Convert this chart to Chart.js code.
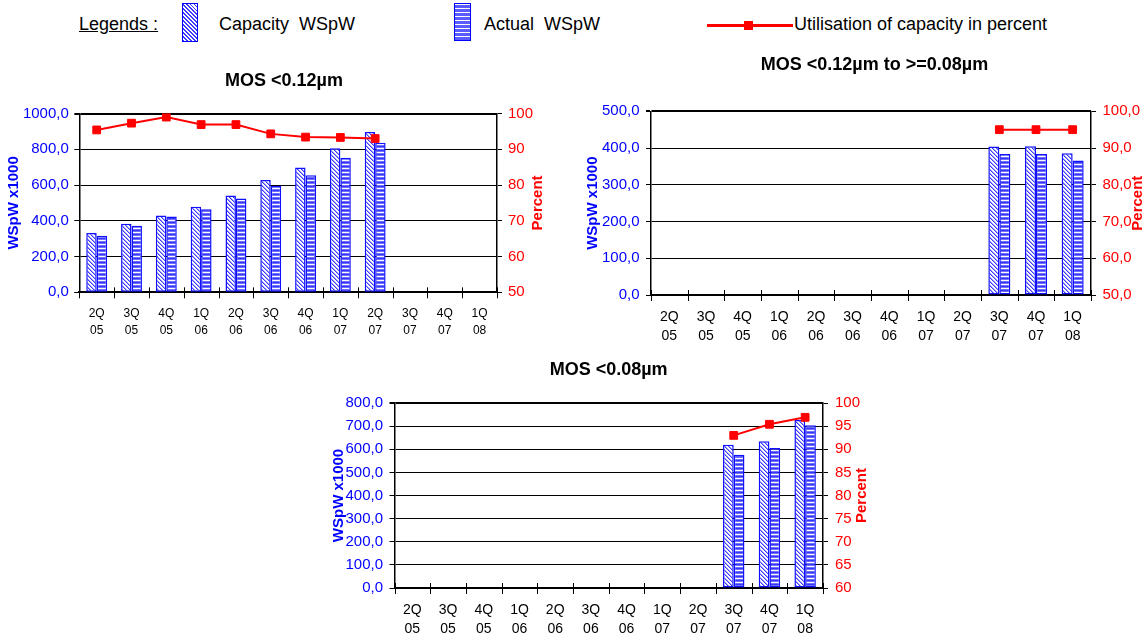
<!DOCTYPE html>
<html><head><meta charset="utf-8">
<script src="https://cdn.jsdelivr.net/npm/chart.js@4.4.1/dist/chart.umd.min.js"></script>
<style>
html,body{margin:0;padding:0;background:#fff;}
body{width:1147px;height:640px;position:relative;overflow:hidden;font-family:"Liberation Sans",Arial,sans-serif;}
canvas{position:absolute;}
.lg{position:absolute;font-size:18px;line-height:20px;color:#000;white-space:pre;}
.sw{position:absolute;box-sizing:border-box;border:1px solid #0000ff;}
</style></head><body>
<div class="lg" style="left:79px;top:14px;text-decoration:underline;">Legends :</div>
<div class="sw" style="left:182px;top:3px;width:16px;height:39px;background:repeating-linear-gradient(45deg,#3a3aff 0 1px,#ffffff 1px 2.8px);"></div>
<div class="lg" style="left:219px;top:14px;">Capacity  WSpW</div>
<div class="sw" style="left:454px;top:3px;width:17px;height:38px;background:repeating-linear-gradient(to bottom,#ffffff 0 1px,#5a5aff 1px 4px);"></div>
<div class="lg" style="left:484px;top:14px;">Actual  WSpW</div>
<div style="position:absolute;left:707px;top:23.5px;width:86px;height:3px;background:#ff0000;"></div>
<div style="position:absolute;left:743.5px;top:20.5px;width:9px;height:9px;background:#ff0000;"></div>
<div class="lg" style="left:794px;top:14px;">Utilisation of capacity in percent</div>

<canvas id="c1" width="568" height="320" style="left:0px;top:40px"></canvas>
<canvas id="c2" width="587" height="320" style="left:560px;top:40px"></canvas>
<canvas id="c3" width="580" height="290" style="left:300px;top:350px"></canvas>

<script>
// ---------- data ----------
const quarters = ['2Q','3Q','4Q','1Q','2Q','3Q','4Q','1Q','2Q','3Q','4Q','1Q'];
const years    = ['05','05','05','06','06','06','06','07','07','07','07','08'];

const cap1 = [331, 383, 429, 479, 542, 628, 698, 805, 896, null, null, null];
const act1 = [316, 372, 424, 464, 525, 594, 654, 752, 836, null, null, null];
const pct1 = [95.4, 97.3, 99.0, 96.9, 96.9, 94.3, 93.4, 93.3, 93.0, null, null, null];

const cap2 = [null, null, null, null, null, null, null, null, null, 404, 405, 386];
const act2 = [null, null, null, null, null, null, null, null, null, 384, 384, 366];
const pct2 = [null, null, null, null, null, null, null, null, null, 95.0, 95.0, 95.0];

const cap3 = [null, null, null, null, null, null, null, null, null, 619, 635, 726];
const act3 = [null, null, null, null, null, null, null, null, null, 576, 605, 704];
const pct3 = [null, null, null, null, null, null, null, null, null, 93.0, 95.4, 96.9];

const leftTicks1  = [0, 200, 400, 600, 800, 1000];
const rightTicks1 = [50, 60, 70, 80, 90, 100];
const leftTicks2  = [0, 100, 200, 300, 400, 500];
const rightTicks2 = [50, 60, 70, 80, 90, 100];
const leftTicks3  = [0, 100, 200, 300, 400, 500, 600, 700, 800];
const rightTicks3 = [60, 65, 70, 75, 80, 85, 90, 95, 100];

const titles = ['MOS <0.12\u00b5m', 'MOS <0.12\u00b5m to >=0.08\u00b5m', 'MOS <0.08\u00b5m'];
const yTitle = 'WSpW x1000';
const y1Title = 'Percent';

// ---------- helpers ----------
const FAM = '"Liberation Sans", Arial, sans-serif';
Chart.defaults.font.family = FAM;
const fmt1 = v => v.toFixed(1).replace('.', ',');
const fmt0 = v => String(v);
const labels = quarters.map((q, i) => [q, years[i]]);

function diagPattern(ctx) {
  const c = document.createElement('canvas'); c.width = 4; c.height = 4;
  const g = c.getContext('2d');
  g.fillStyle = '#ffffff'; g.fillRect(0, 0, 4, 4);
  g.fillStyle = '#3a3aff';
  for (let i = 0; i < 4; i++) g.fillRect(i, i, 1, 1);
  g.fillStyle = '#a0a0ff';
  for (let i = 0; i < 4; i++) g.fillRect((i + 1) % 4, i, 1, 1);
  return ctx.createPattern(c, 'repeat');
}
function stripePattern(ctx) {
  const c = document.createElement('canvas'); c.width = 4; c.height = 4;
  const g = c.getContext('2d');
  g.fillStyle = '#ffffff'; g.fillRect(0, 0, 4, 1);
  g.fillStyle = '#7070ff'; g.fillRect(0, 1, 4, 1);
  g.fillStyle = '#3535ff'; g.fillRect(0, 2, 4, 1);
  g.fillStyle = '#7070ff'; g.fillRect(0, 3, 4, 1);
  return ctx.createPattern(c, 'repeat');
}

const decorPlugin = {
  id: 'decor',
  afterDraw(chart, args, o) {
    const ctx = chart.ctx, a = chart.chartArea, xs = chart.scales.x;
    // cross tick marks on category axis at category boundaries
    ctx.save();
    ctx.strokeStyle = '#000'; ctx.lineWidth = 1;
    const n = labels.length;
    for (let i = 0; i <= n; i++) {
      const x = Math.round(xs.left + i * (xs.right - xs.left) / n) + 0.5;
      ctx.beginPath(); ctx.moveTo(x, a.bottom - 5); ctx.lineTo(x, a.bottom + 6); ctx.stroke();
    }
    ctx.restore();
    // chart title
    ctx.save();
    ctx.font = 'bold 18px ' + FAM;
    ctx.fillStyle = '#000'; ctx.textAlign = 'center'; ctx.textBaseline = 'middle';
    ctx.fillText(o.title, o.titleX, o.titleY);
    ctx.restore();
    const midY = (a.top + a.bottom) / 2;
    // left axis title
    ctx.save();
    ctx.font = 'bold 15px ' + FAM;
    ctx.fillStyle = '#0000ff'; ctx.textAlign = 'center'; ctx.textBaseline = 'middle';
    ctx.translate(o.leftX, midY); ctx.rotate(-Math.PI / 2);
    ctx.fillText(yTitle, 0, 0);
    ctx.restore();
    // right axis title
    ctx.save();
    ctx.font = 'bold 15px ' + FAM;
    ctx.fillStyle = '#ff0000'; ctx.textAlign = 'center'; ctx.textBaseline = 'middle';
    ctx.translate(o.rightX, midY); ctx.rotate(-Math.PI / 2);
    ctx.fillText(y1Title, 0, 0);
    ctx.restore();
  }
};

function makeChart(id, cfg) {
  const el = document.getElementById(id);
  const ctx = el.getContext('2d');
  return new Chart(ctx, {
    type: 'bar',
    data: {
      labels: labels,
      datasets: [
        { type: 'line', data: cfg.pct, yAxisID: 'y1', order: 0,
          borderColor: '#ff0000', backgroundColor: '#ff0000', borderWidth: 2,
          pointStyle: 'rect', pointRadius: 5.5, pointBorderWidth: 1,
          pointBackgroundColor: '#ff0000', pointBorderColor: '#ff0000', tension: 0 },
        { data: cfg.cap, yAxisID: 'y', order: 1,
          backgroundColor: diagPattern(ctx), borderColor: '#1010ff', borderWidth: 1.5, borderSkipped: false,
          categoryPercentage: cfg.catPct, barPercentage: 1.0 },
        { data: cfg.act, yAxisID: 'y', order: 1,
          backgroundColor: stripePattern(ctx), borderColor: '#1010ff', borderWidth: 1.5, borderSkipped: false,
          categoryPercentage: cfg.catPct, barPercentage: 1.0 }
      ]
    },
    options: {
      responsive: false, animation: false, devicePixelRatio: 1,
      layout: { padding: { top: cfg.padTop, left: 0, right: 0, bottom: 0 } },
      plugins: {
        legend: { display: false }, tooltip: { enabled: false }, title: { display: false },
        decor: { title: cfg.title, titleX: cfg.titleX, titleY: cfg.titleY, leftX: cfg.leftX, rightX: cfg.rightX }
      },
      scales: {
        x: {
          offset: true,
          grid: { display: true, drawOnChartArea: false, drawTicks: false },
          border: { display: true, color: '#000', width: 2 },
          ticks: { color: '#000', font: { size: cfg.catSize, lineHeight: cfg.catLH + 'px' },
                   padding: cfg.catPad, maxRotation: 0, minRotation: 0, autoSkip: false },
          afterFit(s) { s.height = cfg.xH; }
        },
        y: {
          position: 'left', min: cfg.left[0], max: cfg.left[cfg.left.length - 1],
          afterBuildTicks(s) { s.ticks = cfg.left.map(v => ({ value: v })); },
          grid: { color: '#000', lineWidth: c => (c.index === cfg.left.length - 1 ? 2 : 1), tickLength: 5, drawTicks: true },
          border: { display: true, color: '#000', width: 1.5 },
          ticks: { color: '#0000ff', font: { size: 15 }, padding: cfg.yPad, callback: v => fmt1(v) },
          afterFit(s) { s.width = cfg.yW; }
        },
        y1: {
          position: 'right', min: cfg.right[0], max: cfg.right[cfg.right.length - 1],
          afterBuildTicks(s) { s.ticks = cfg.right.map(v => ({ value: v })); },
          grid: { color: '#000', drawOnChartArea: false, tickLength: 5, drawTicks: true },
          border: { display: true, color: '#000', width: 1.5 },
          ticks: { color: '#ff0000', font: { size: 15 }, padding: cfg.y1Pad, callback: v => cfg.rfmt(v) },
          afterFit(s) { s.width = cfg.y1W; }
        }
      }
    },
    plugins: [decorPlugin]
  });
}

makeChart('c1', {
  cap: cap1, act: act1, pct: pct1, left: leftTicks1, right: rightTicks1, rfmt: fmt0,
  catPct: 0.6, padTop: 73.5, yW: 79.3, y1W: 71, xH: 67.7,
  catSize: 12, catLH: 17.6, catPad: 12.4, yPad: 5.5, y1Pad: 6,
  title: titles[0], titleX: 284, titleY: 41.5, leftX: 14.3, rightX: 537.5
});
makeChart('c2', {
  cap: cap2, act: act2, pct: pct2, left: leftTicks2, right: rightTicks2, rfmt: fmt1,
  catPct: 0.6, padTop: 71.3, yW: 91, y1W: 56, xH: 65,
  catSize: 14, catLH: 18.8, catPad: 12.7, yPad: 6.5, y1Pad: 6.5,
  title: titles[1], titleX: 314.5, titleY: 25, leftX: 33, rightX: 578
});
makeChart('c3', {
  cap: cap3, act: act3, pct: pct3, left: leftTicks3, right: rightTicks3, rfmt: fmt0,
  catPct: 0.6, padTop: 53, yW: 94.5, y1W: 57, xH: 52,
  catSize: 14, catLH: 19, catPad: 12.5, yPad: 6.5, y1Pad: 7,
  title: titles[2], titleX: 308.6, titleY: 20, leftX: 39, rightX: 562
});
</script>
</body></html>
